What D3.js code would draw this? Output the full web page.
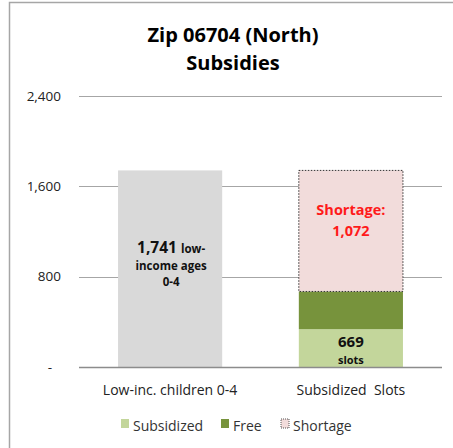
<!DOCTYPE html>
<html>
<head>
<meta charset="utf-8">
<script src="https://cdn.jsdelivr.net/npm/d3@7"></script>
<style>
  body { margin: 0; background: #fff; }
  svg { display: block; font-family: "Open Sans", "Liberation Sans", sans-serif; }
</style>
</head>
<body>
<div id="chart"></div>
<script>
// chart data
const categories = ["Low-inc. children 0-4", "Subsidized  Slots"];
const children = [1741, 0];
const subsidized = [0, 335];
const free = [0, 334];
const shortage = [0, 1072];
const yTicks = [0, 800, 1600, 2400];
const legendItems = ["Subsidized", "Free", "Shortage"];

const width = 453, height = 448;
const margin = { top: 96, right: 11, bottom: 81, left: 79 };
const W = width - margin.left - margin.right;
const H = height - margin.top - margin.bottom;

const colors = {
    children: "#d9d9d9",
    Subsidized: "#c3d69b",
    Free: "#77933c",
    Shortage: "#f2dcdb"
};

const svg = d3.select("#chart")
    .append("svg")
    .attr("width", width)
    .attr("height", height);

// frame
svg.append("path")
    .attr("d", `M9.5,${height} V2.5 H${width}`)
    .attr("fill", "none")
    .attr("stroke", "#a6a6a6")
    .attr("stroke-width", 1.5);

// title
const title = svg.append("text")
    .attr("text-anchor", "middle")
    .attr("fill", "#000")
    .style("font-size", "20px")
    .style("font-weight", "700");
title.append("tspan").attr("x", 233).attr("y", 42).text("Zip 06704 (North)");
title.append("tspan").attr("x", 233).attr("y", 70).text("Subsidies");

const g = svg.append("g")
    .attr("transform", `translate(${margin.left},${margin.top})`);

const x = d3.scaleBand()
    .domain(categories)
    .range([0, W])
    .paddingInner(0.424)
    .paddingOuter(0.216);

const y = d3.scaleLinear()
    .domain([0, 2400])
    .range([H, 0]);

// gridlines
g.append("g")
    .selectAll("line")
    .data(yTicks.filter(d => d > 0))
    .enter()
    .append("line")
    .attr("x1", 0)
    .attr("x2", W)
    .attr("y1", d => Math.round(y(d)) + 0.5)
    .attr("y2", d => Math.round(y(d)) + 0.5)
    .attr("stroke", "#a6a6a6")
    .attr("stroke-width", 1.2);

// y axis labels
const yAxis = g.append("g")
    .call(d3.axisLeft(y)
        .tickValues(yTicks)
        .tickSize(0)
        .tickPadding(18)
        .tickFormat(d => d === 0 ? "-" : d3.format(",")(d)));
yAxis.select(".domain").remove();
yAxis.selectAll("text")
    .attr("fill", "#222")
    .style("font-size", "13.5px")
    .style("font-family", "'Open Sans', sans-serif");
yAxis.selectAll(".tick")
    .filter(d => d === 0)
    .select("text")
    .attr("dx", -9);

// stacked bars
const rows = categories.map((c, i) => ({
    cat: c,
    children: children[i],
    Subsidized: subsidized[i],
    Free: free[i],
    Shortage: shortage[i]
}));
const keys = ["children", "Subsidized", "Free", "Shortage"];
const stack = d3.stack().keys(keys)(rows);

const bars = g.append("g");
stack.forEach(layer => {
    bars.selectAll(null)
        .data(layer.filter(d => d[1] - d[0] > 0))
        .enter()
        .append("rect")
        .attr("x", d => x(d.data.cat))
        .attr("width", x.bandwidth())
        .attr("y", d => y(d[1]))
        .attr("height", d => y(d[0]) - y(d[1]))
        .attr("fill", colors[layer.key])
        .attr("stroke", layer.key === "Shortage" ? "#333" : "none")
        .attr("stroke-width", 1)
        .attr("stroke-dasharray", layer.key === "Shortage" ? "1.5,1.5" : null);
});

// baseline
g.append("line")
    .attr("x1", 0)
    .attr("x2", W)
    .attr("y1", y(0) + 0.5)
    .attr("y2", y(0) + 0.5)
    .attr("stroke", "#8c8c8c")
    .attr("stroke-width", 1.5);

// category labels
g.append("g")
    .selectAll("text")
    .data(categories)
    .enter()
    .append("text")
    .attr("x", d => x(d) + x.bandwidth() / 2)
    .attr("y", H + 28)
    .attr("text-anchor", "middle")
    .attr("fill", "#222")
    .style("font-size", "14px")
    .style("white-space", "pre")
    .text(d => d);

// bar annotations
const cx0 = x(categories[0]) + x.bandwidth() / 2;
const cx1 = x(categories[1]) + x.bandwidth() / 2;

const lbl1 = g.append("text")
    .attr("text-anchor", "middle")
    .attr("fill", "#111")
    .style("font-weight", "700");
lbl1.append("tspan").attr("x", cx0 + 1).attr("y", y(children[0]) + 83)
    .style("font-size", "15.5px").text(d3.format(",")(children[0]) + " ");
lbl1.append("tspan").style("font-size", "11.5px").text("low-");
lbl1.append("tspan").attr("x", cx0 + 1).attr("y", y(children[0]) + 100)
    .style("font-size", "11.5px").text("income ages");
lbl1.append("tspan").attr("x", cx0 + 1).attr("y", y(children[0]) + 116)
    .style("font-size", "11.5px").text("0-4");

const total = subsidized[1] + free[1];
const lbl2 = g.append("text")
    .attr("text-anchor", "middle")
    .attr("fill", "#ff1a1a")
    .style("font-weight", "700")
    .style("font-size", "14.5px");
lbl2.append("tspan").attr("x", cx1).attr("y", y(total + shortage[1]) + 45).text("Shortage:");
lbl2.append("tspan").attr("x", cx1).attr("y", y(total + shortage[1]) + 66).text(d3.format(",")(shortage[1]));

// "669 slots" label, two separate texts so they don't collide
g.append("text")
    .attr("x", cx1)
    .attr("y", y(subsidized[1]) + 18)
    .attr("text-anchor", "middle")
    .attr("fill", "#111")
    .style("font-weight", "700")
    .style("font-size", "15px")
    .text(total);
g.append("text")
    .attr("x", cx1)
    .attr("y", y(subsidized[1]) + 35)
    .attr("text-anchor", "middle")
    .attr("fill", "#111")
    .style("font-weight", "700")
    .style("font-size", "11px")
    .text("slots");

// legend
const legendX = [121, 221, 281];
const legend = svg.append("g")
    .attr("transform", "translate(0,419)");
legendItems.forEach((k, i) => {
    legend.append("rect")
        .attr("x", legendX[i])
        .attr("y", 0)
        .attr("width", 8)
        .attr("height", 9)
        .attr("fill", colors[k])
        .attr("stroke", k === "Shortage" ? "#555" : "none")
        .attr("stroke-width", 1)
        .attr("stroke-dasharray", k === "Shortage" ? "1,1" : null);
    legend.append("text")
        .attr("x", legendX[i] + 12)
        .attr("y", 12)
        .attr("fill", "#333")
        .style("font-size", "14px")
        .text(k);
});
</script>
</body>
</html>
